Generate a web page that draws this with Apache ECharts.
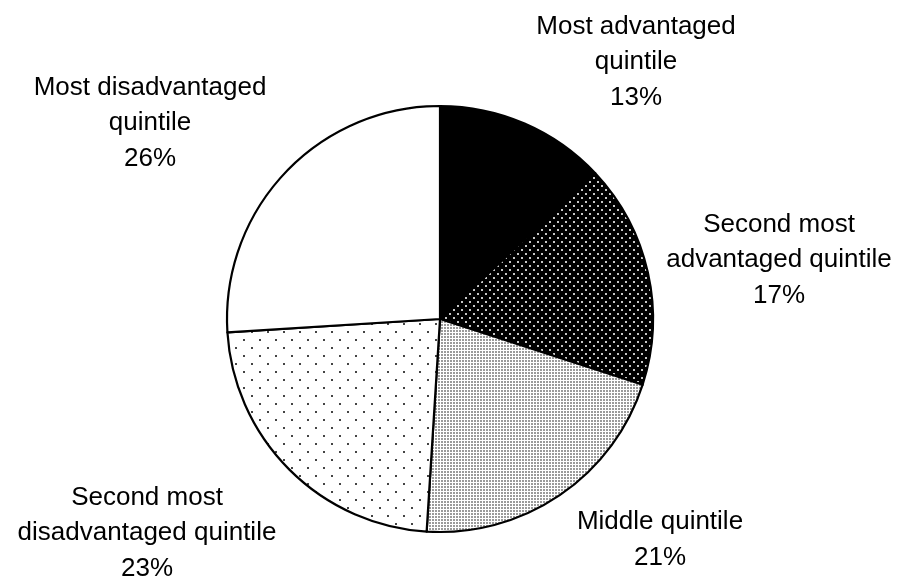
<!DOCTYPE html>
<html>
<head>
<meta charset="utf-8">
<script src="https://cdn.jsdelivr.net/npm/echarts@6/dist/echarts.min.js"></script>
<style>
  html, body { margin: 0; padding: 0; background: #fff; }
  #chart { width: 899px; height: 577px; }
</style>
</head>
<body>
<div id="chart"></div>
<script>
// Share of students by socio-economic quintile
const categories = [
  'Most advantaged\nquintile',
  'Second most\nadvantaged quintile',
  'Middle quintile',
  'Second most\ndisadvantaged quintile',
  'Most disadvantaged\nquintile'
];
const shares = [13, 17, 21, 23, 26];

// Build a repeating dot-pattern tile
function dotTile(size, bg, dot, dotSize, points) {
  const c = document.createElement('canvas');
  c.width = size; c.height = size;
  const g = c.getContext('2d');
  g.fillStyle = bg;
  g.fillRect(0, 0, size, size);
  g.fillStyle = dot;
  points.forEach(p => g.fillRect(p[0], p[1], dotSize, dotSize));
  return { image: c, repeat: 'repeat' };
}

const fills = [
  '#000000',
  dotTile(8, '#000000', '#c8c8c8', 2, [[1, 1], [5, 5]]),
  dotTile(3, '#ffffff', '#9a9a9a', 2, [[0, 0]]),
  dotTile(16, '#ffffff', '#444444', 2, [[3, 3], [11, 11]]),
  '#ffffff'
];

// Centre points of each outside label block (px)
const labelSpots = [
  [636, 62], [779, 260], [660, 540], [147, 533], [150, 123]
];

const chart = echarts.init(document.getElementById('chart'), null, { renderer: 'canvas' });
chart.setOption({
  animation: false,
  backgroundColor: '#ffffff',
  series: [{
    type: 'pie',
    center: [440, 319],
    radius: 213,
    startAngle: 90,
    clockwise: true,
    silent: true,
    avoidLabelOverlap: false,
    data: shares.map((v, i) => ({
      name: categories[i],
      value: v,
      itemStyle: { color: fills[i] }
    })),
    itemStyle: { borderColor: '#000', borderWidth: 2.2 },
    label: {
      show: true,
      position: 'outside',
      alignTo: 'none',
      overflow: 'none',
      width: 400,
      formatter: p => p.name + '\n' + p.value + '%',
      fontFamily: 'Liberation Sans, Arial, sans-serif',
      fontSize: 26,
      lineHeight: 35.5,
      color: '#000',
      align: 'center'
    },
    labelLine: { show: false },
    labelLayout: p => ({
      x: labelSpots[p.dataIndex][0],
      y: labelSpots[p.dataIndex][1],
      align: 'center',
      verticalAlign: 'middle'
    })
  }]
});
</script>
</body>
</html>
